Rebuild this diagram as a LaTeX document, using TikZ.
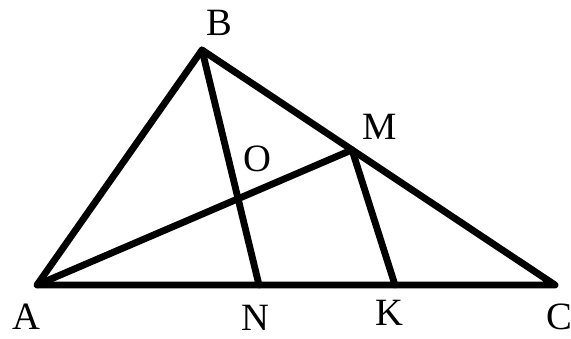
\documentclass[tikz,border=0pt]{standalone}
\usepackage{fontspec}
\setmainfont{Liberation Serif}
\usetikzlibrary{calc}

\begin{document}
\begin{tikzpicture}[
  x=0.02cm, y=-0.02cm,
  edge/.style={line width=3.9pt, line cap=round, line join=round},
  ptlabel/.style={font=\fontsize{22}{25}\selectfont, inner sep=0pt}
]
\useasboundingbox (0,0) rectangle (571,338);

\coordinate (A) at (37,285);
\coordinate (B) at (202,50);
\coordinate (C) at (555,285);
\coordinate (M) at ($(B)!0.425!(C)$);
\coordinate (N) at (259,285);
\coordinate (K) at (395,285);
\coordinate (O) at (intersection of A--M and B--N);

\draw[edge] (A) -- (B) -- (C) -- cycle;
\draw[edge] (B) -- (N);
\draw[edge] (A) -- (M);
\draw[edge] (M) -- (K);

\node[ptlabel] (lA) at (26,317) {A};
\node[ptlabel] (lB) at (219,23)  {B};
\node[ptlabel] (lC) at (559,317) {C};
\node[ptlabel] (lM) at (380,127) {M};
\node[ptlabel] (lN) at (255,318) {N};
\node[ptlabel] (lK) at (389,313) {K};
\node[ptlabel] (lO) at (257,159) {O};
\end{tikzpicture}
\end{document}
